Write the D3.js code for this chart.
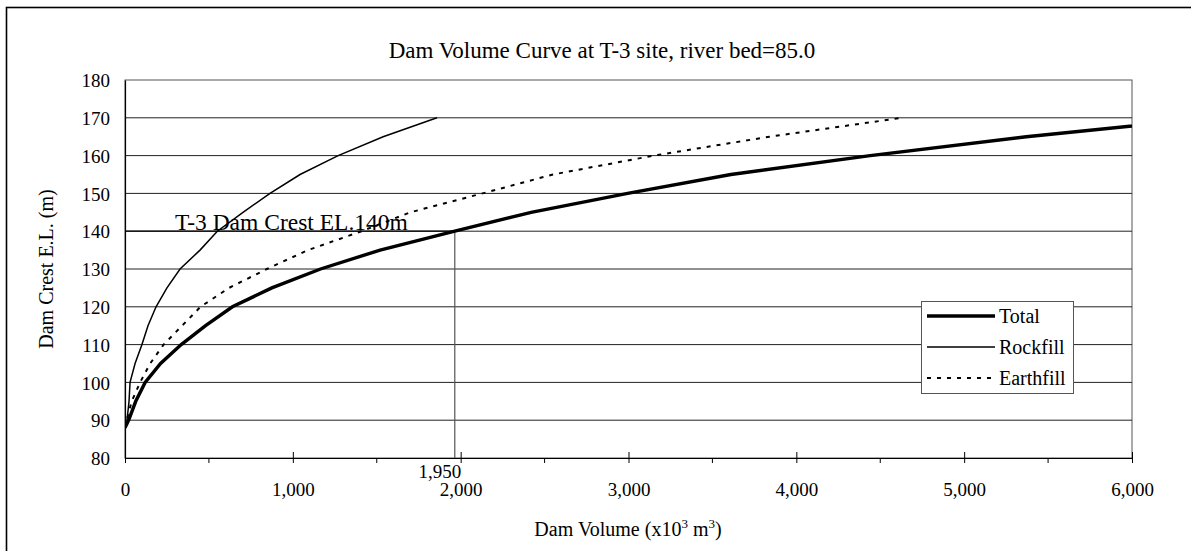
<!DOCTYPE html>
<html>
<head>
<meta charset="utf-8">
<script src="https://cdn.jsdelivr.net/npm/d3@7"></script>
<style>
  html, body { margin: 0; padding: 0; background: #fff; }
  svg { display: block; }
  text { font-family: "Liberation Serif", "Times New Roman", serif; fill: #000; }
</style>
</head>
<body>
<svg id="chart" width="1191" height="551"></svg>
<script>
// ---- Data ----
const elevations = [88, 90, 95, 100, 105, 110, 115, 120, 125, 130, 135, 140, 145, 150, 155, 160, 165, 170];
const totalVolume     = [0, 22, 64, 120, 212, 335, 480, 640, 875, 1165, 1520, 1965, 2420, 2995, 3610, 4440, 5370, 6490];
const rockfillVolume  = [0, 12, 24, 30, 60, 101, 137, 185, 250, 328, 447, 550, 703, 864, 1043, 1270, 1538, 1859];
const earthfillVolume = [0, 10, 40, 90, 150, 230, 340, 450, 620, 845, 1090, 1410, 1700, 2130, 2550, 3150, 3840, 4630];
const seriesNames = ["Total", "Rockfill", "Earthfill"];
const xTickValues = [0, 1000, 2000, 3000, 4000, 5000, 6000];
const xMinorTicks = [500, 1500, 2500, 3500, 4500, 5500];
const yTickValues = [80, 90, 100, 110, 120, 130, 140, 150, 160, 170, 180];
const crestElevation = 140;
const crestVolume = 1965;
const crestVolumeLabel = "1,950";
const crestLabel = "T-3 Dam Crest EL.140m";
const chartTitle = "Dam Volume Curve at T-3 site, river bed=85.0";

// ---- Layout ----
const svg = d3.select("#chart");
const plot = { left: 125, top: 80, right: 1132, bottom: 458 };

const x = d3.scaleLinear().domain([0, 6000]).range([plot.left, plot.right]);
const y = d3.scaleLinear().domain([80, 180]).range([plot.bottom, plot.top]);

// outer border (extends beyond the picture on right and bottom)
svg.append("rect")
  .attr("x", 6.5).attr("y", 7.5).attr("width", 1220).attr("height", 600)
  .attr("fill", "none").attr("stroke", "#000").attr("stroke-width", 1.6);

// title
svg.append("text")
  .attr("x", 602).attr("y", 58)
  .attr("text-anchor", "middle")
  .style("font-size", "23px")
  .text(chartTitle);

// plot frame
svg.append("rect")
  .attr("x", plot.left).attr("y", plot.top)
  .attr("width", plot.right - plot.left).attr("height", plot.bottom - plot.top)
  .attr("fill", "#fff").attr("stroke", "#555").attr("stroke-width", 1);

// horizontal gridlines
svg.append("g").selectAll("line")
  .data(yTickValues.filter(v => v > 80 && v < 180))
  .join("line")
  .attr("x1", plot.left).attr("x2", plot.right)
  .attr("y1", d => y(d)).attr("y2", d => y(d))
  .attr("stroke", "#222").attr("stroke-width", 1);

// y axis (labels only, no tick marks)
const yAxis = d3.axisLeft(y).tickValues(yTickValues).tickSize(0).tickPadding(15)
  .tickFormat(d3.format("d"));
const gy = svg.append("g").attr("transform", `translate(${plot.left},0)`).call(yAxis);
gy.select(".domain").attr("stroke", "#000").attr("stroke-width", 1.2);
gy.selectAll("text").style("font-size", "19px")
  .style("font-family", '"Liberation Serif", "Times New Roman", serif')
  .attr("dy", "0.35em");

// x axis
const xAxis = d3.axisBottom(x).tickValues(xTickValues).tickSizeInner(5).tickSizeOuter(0)
  .tickPadding(20).tickFormat(d3.format(","));
const gx = svg.append("g").attr("transform", `translate(0,${plot.bottom})`).call(xAxis);
gx.select(".domain").attr("stroke", "#000").attr("stroke-width", 1.2);
gx.selectAll(".tick line").attr("y1", -6).attr("y2", 5).attr("stroke", "#000");
gx.selectAll("text").style("font-size", "19px")
  .style("font-family", '"Liberation Serif", "Times New Roman", serif');

// minor x ticks
svg.append("g").selectAll("line")
  .data(xMinorTicks)
  .join("line")
  .attr("x1", d => x(d)).attr("x2", d => x(d))
  .attr("y1", plot.bottom).attr("y2", plot.bottom + 5)
  .attr("stroke", "#000");

// crest reference lines
svg.append("line")
  .attr("x1", x(0)).attr("x2", x(crestVolume))
  .attr("y1", y(crestElevation)).attr("y2", y(crestElevation))
  .attr("stroke", "#000").attr("stroke-width", 1.2);
svg.append("line")
  .attr("x1", x(crestVolume)).attr("x2", x(crestVolume))
  .attr("y1", y(crestElevation)).attr("y2", y(80))
  .attr("stroke", "#555").attr("stroke-width", 1.2);

// clip
svg.append("clipPath").attr("id", "plotclip")
  .append("rect").attr("x", plot.left).attr("y", plot.top)
  .attr("width", plot.right - plot.left).attr("height", plot.bottom - plot.top);

const line = d3.line().x(d => x(d[0])).y(d => y(d[1]));
const series = [
  { name: seriesNames[0], values: totalVolume, width: 3.4, dash: null },
  { name: seriesNames[1], values: rockfillVolume, width: 1.5, dash: null },
  { name: seriesNames[2], values: earthfillVolume, width: 2, dash: "4,6" }
];
const gLines = svg.append("g").attr("clip-path", "url(#plotclip)");
series.forEach(s => {
  gLines.append("path")
    .datum(s.values.map((v, i) => [v, elevations[i]]))
    .attr("d", line)
    .attr("fill", "none")
    .attr("stroke", "#000")
    .attr("stroke-width", s.width)
    .attr("stroke-dasharray", s.dash);
});

// annotations
svg.append("text")
  .attr("x", x(0) + 50).attr("y", y(crestElevation) - 1)
  .style("font-size", "23.5px")
  .text(crestLabel);
svg.append("text")
  .attr("x", x(crestVolume) - 15).attr("y", plot.bottom + 20)
  .attr("text-anchor", "middle")
  .style("font-size", "19px")
  .text(crestVolumeLabel);

// axis titles
svg.append("text")
  .attr("transform", `translate(53,${(plot.top + plot.bottom) / 2}) rotate(-90)`)
  .attr("text-anchor", "middle")
  .style("font-size", "20px")
  .text("Dam Crest E.L. (m)");

const xt = svg.append("text")
  .attr("x", 628).attr("y", 536)
  .attr("text-anchor", "middle")
  .style("font-size", "20px");
xt.append("tspan").text("Dam Volume (x10");
xt.append("tspan").attr("dy", -8).style("font-size", "13px").text("3");
xt.append("tspan").attr("dy", 8).text(" m");
xt.append("tspan").attr("dy", -8).style("font-size", "13px").text("3");
xt.append("tspan").attr("dy", 8).text(")");

// legend
const legend = svg.append("g");
legend.append("rect")
  .attr("x", 921.5).attr("y", 301.5).attr("width", 152).attr("height", 92)
  .attr("fill", "#fff").attr("stroke", "#555").attr("stroke-width", 1);
series.forEach((s, i) => {
  const ly = 316 + i * 31;
  legend.append("line")
    .attr("x1", 927).attr("x2", 995).attr("y1", ly).attr("y2", ly)
    .attr("stroke", "#000").attr("stroke-width", s.width)
    .attr("stroke-dasharray", s.dash);
  legend.append("text")
    .attr("x", 999).attr("y", ly + 7)
    .style("font-size", "20px")
    .text(s.name);
});
</script>
</body>
</html>
